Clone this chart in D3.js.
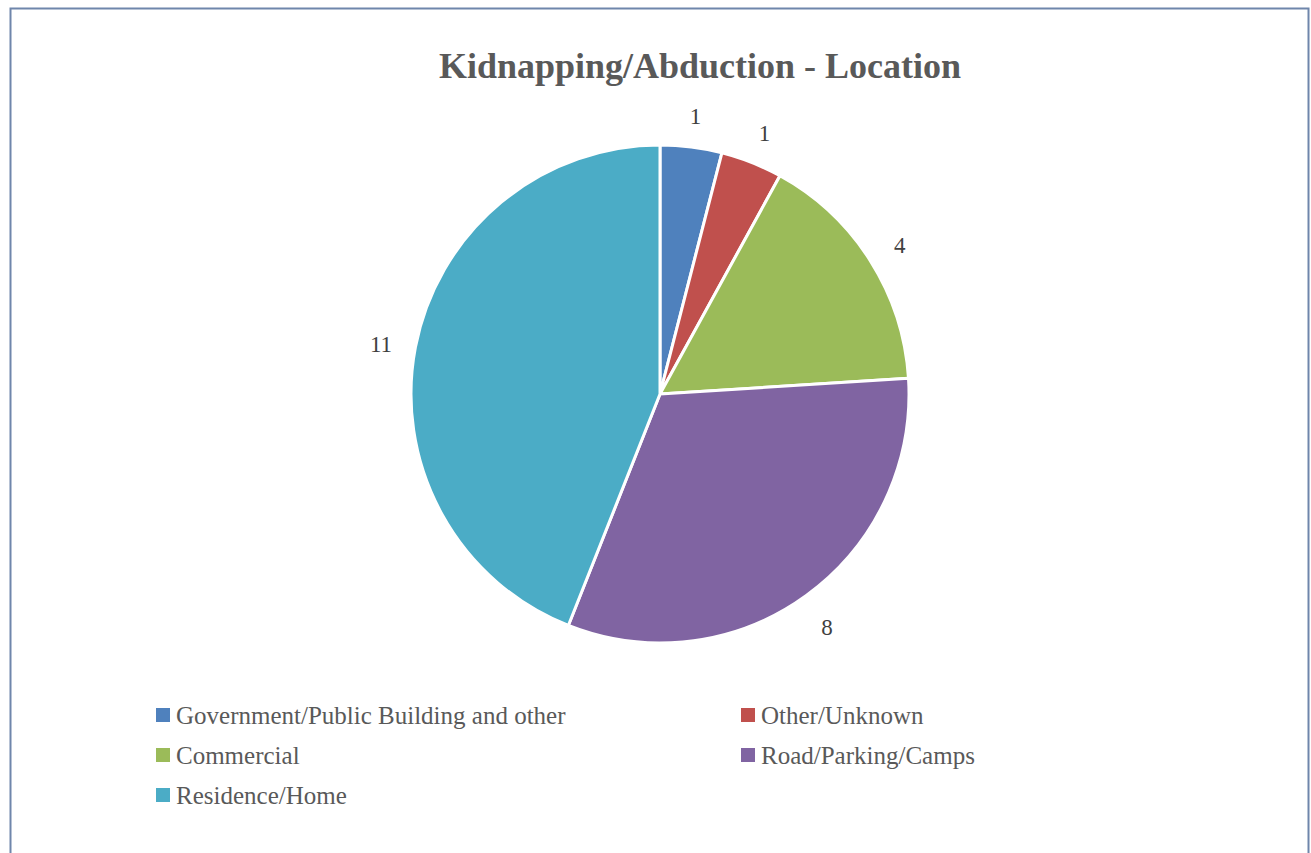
<!DOCTYPE html>
<html>
<head>
<meta charset="utf-8">
<script src="https://cdn.jsdelivr.net/npm/d3@7"></script>
<style>
  body { margin: 0; background: #fff; }
</style>
</head>
<body>
<div id="chart"></div>
<script>
// data
const categories = ["Government/Public Building and other", "Other/Unknown", "Commercial", "Road/Parking/Camps", "Residence/Home"];
const counts = [1, 1, 4, 8, 11];
const colors = ["#4f81bd", "#c0504d", "#9bbb59", "#8064a2", "#4bacc6"];

const width = 1311, height = 853;
const fontFam = "'Liberation Serif', 'Times New Roman', Times, serif";

const svg = d3.select("#chart").append("svg")
    .attr("width", width)
    .attr("height", height)
    .style("font-family", fontFam);

// frame
svg.append("rect")
    .attr("x", 10.5).attr("y", 8.5)
    .attr("width", 1298).attr("height", 860)
    .attr("fill", "none")
    .attr("stroke", "#6f86ab")
    .attr("stroke-width", 2);

// title
svg.append("text")
    .attr("x", 700).attr("y", 78)
    .attr("text-anchor", "middle")
    .attr("fill", "#595959")
    .style("font-size", "36px")
    .style("font-weight", "bold")
    .text("Kidnapping/Abduction - Location");

// pie
const cx = 660, cy = 394, radius = 249, labelRadius = 284;

const data = categories.map((c, i) => ({name: c, value: counts[i], color: colors[i]}));

const pie = d3.pie().value(d => d.value).sort(null);
const arc = d3.arc().innerRadius(0).outerRadius(radius);
const labelArc = d3.arc().innerRadius(labelRadius).outerRadius(labelRadius);

const g = svg.append("g").attr("transform", `translate(${cx},${cy})`);

g.selectAll(".slice")
    .data(pie(data))
    .enter()
    .append("path")
    .attr("class", "slice")
    .attr("d", arc)
    .attr("fill", d => d.data.color)
    .attr("stroke", "#fff")
    .attr("stroke-width", 3)
    .attr("stroke-linejoin", "round");

g.selectAll(".pie-label")
    .data(pie(data))
    .enter()
    .append("text")
    .attr("class", "pie-label")
    .attr("transform", d => `translate(${labelArc.centroid(d)})`)
    .attr("text-anchor", "middle")
    .attr("dy", "0.5em")
    .attr("fill", "#404040")
    .style("font-size", "23px")
    .text(d => d.value);

// legend
const legendCols = [156, 741], legendRows = [715, 755, 795];
const legend = svg.selectAll(".legend")
    .data(data)
    .enter()
    .append("g")
    .attr("class", "legend")
    .attr("transform", (d, i) => `translate(${legendCols[i % 2]},${legendRows[Math.floor(i / 2)]})`);

legend.append("rect")
    .attr("x", 0).attr("y", -7)
    .attr("width", 14).attr("height", 14)
    .attr("fill", d => d.color);

legend.append("text")
    .attr("x", 20)
    .attr("dy", "0.35em")
    .attr("fill", "#595959")
    .style("font-size", "25px")
    .text(d => d.name);
</script>
</body>
</html>
